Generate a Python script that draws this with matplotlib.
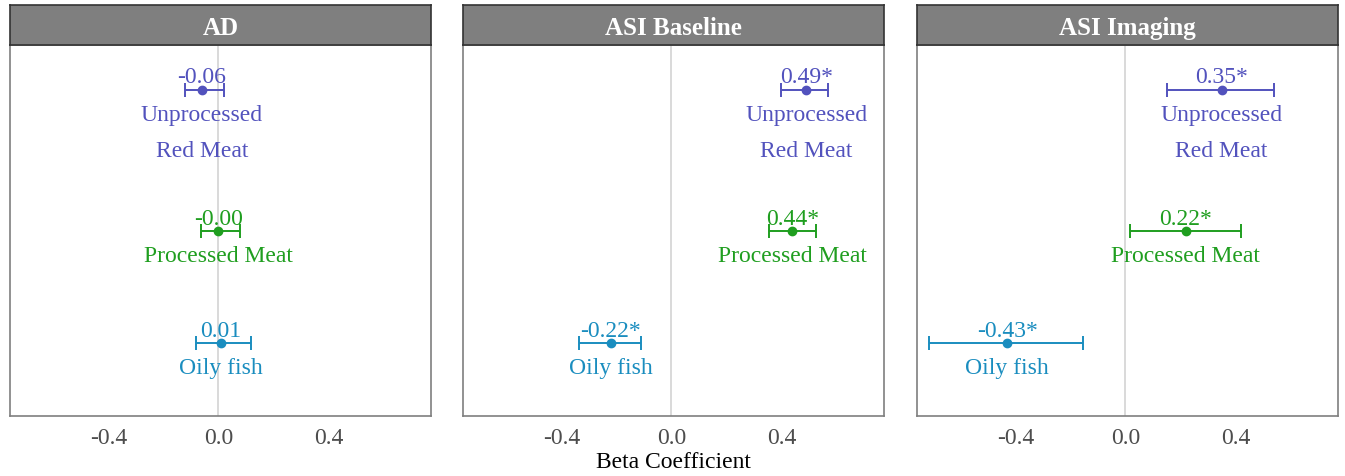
import matplotlib
matplotlib.use("Agg")
from matplotlib import pyplot as plt

plt.rcParams['font.family'] = ['Liberation Serif', 'DejaVu Serif']

panels = ["AD", "ASI Baseline", "ASI Imaging"]
foods = ["Unprocessed\nRed Meat", "Processed Meat", "Oily fish"]
food_colors = ["#5252bd", "#1f9e1f", "#1a8dbf"]

# beta, lower and upper CI per panel (rows follow `foods`)
beta = [[-0.06, -0.00, 0.01],
        [0.49, 0.44, -0.22],
        [0.35, 0.22, -0.43]]
ci_low = [[-0.12, -0.065, -0.08],
          [0.40, 0.355, -0.335],
          [0.15, 0.015, -0.715]]
ci_high = [[0.02, 0.08, 0.12],
           [0.57, 0.525, -0.11],
           [0.54, 0.42, -0.155]]
signif = [[False, False, False],
          [True, True, True],
          [True, True, True]]

x_ticks = [-0.4, 0.0, 0.4]
x_tick_labels = ["-0.4", "0.0", "0.4"]

row_y = [2.26, 1.0, 0.0]

W, H = 1345, 476
fig = plt.figure(figsize=(W / 100, H / 100), dpi=100)

lefts = [10, 463, 917]
pw = 421
top, bottom, strip_top = 45, 416, 5
fs = 17

for p, name in enumerate(panels):
    ax = fig.add_axes([lefts[p] / W, 1 - bottom / H, pw / W, (bottom - top) / H])
    ax.set_xlim(-0.758, 0.773)
    ax.set_ylim(-0.65, 2.66)
    ax.axvline(0, color="#d3d3d3", lw=1.2, zorder=0)
    for i in range(len(foods)):
        b = beta[p][i]
        c = food_colors[i]
        y = row_y[i]
        ax.errorbar(b, y, xerr=[[b - ci_low[p][i]], [ci_high[p][i] - b]],
                    fmt="o", color=c, ms=6, elinewidth=1.4, capsize=5, capthick=1.4)
        lab = "{:.2f}".format(b)
        if lab == "0.00" and b <= 0:
            lab = "-0.00"
        if signif[p][i]:
            lab += "*"
        ax.annotate(lab, (b, y), xytext=(0, 1), textcoords="offset points",
                    ha="center", va="bottom", color=c, fontsize=fs)
        ax.annotate(foods[i], (b, y), xytext=(0, -11), textcoords="offset points",
                    ha="center", va="top", color=c, fontsize=fs, linespacing=1.9)
    ax.set_xticks(x_ticks)
    ax.set_xticklabels(x_tick_labels, fontsize=fs, color="#4d4d4d")
    ax.tick_params(axis="x", length=0, pad=9)
    ax.set_yticks([])
    for s in ax.spines.values():
        s.set_color("#7f7f7f")
        s.set_linewidth(1.2)
    if p == 1:
        ax.set_xlabel("Beta Coefficient", fontsize=fs, color="black", labelpad=2)

    strip = fig.add_axes([lefts[p] / W, 1 - top / H, pw / W, (top - strip_top) / H])
    strip.set_facecolor("#7f7f7f")
    strip.set_xticks([])
    strip.set_yticks([])
    for s in strip.spines.values():
        s.set_color("#333333")
        s.set_linewidth(1.2)
    strip.text(0.5, 0.42, name, transform=strip.transAxes, ha="center", va="center",
               color="white", fontsize=18, fontweight="bold")

fig.savefig("out.png", dpi=100)
